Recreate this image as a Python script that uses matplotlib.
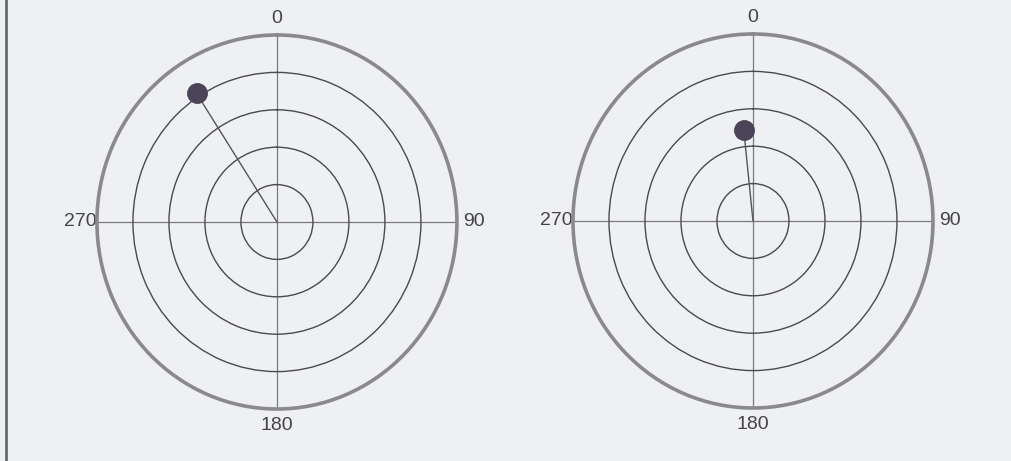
import numpy as np
import matplotlib
matplotlib.use("Agg")
import matplotlib.pyplot as plt
from matplotlib.lines import Line2D

# Data
angles_deg = [327, 354]          # direction of each pointer (degrees, clockwise from 0 at top)
radii = [4.1, 2.45]              # length of each pointer (ring units)
ring_values = [1, 2, 3, 4, 5]
theta_ticks = [0, 90, 180, 270]
theta_labels = ["0", "90", "180", "270"]
r_max = 5

bg = "#eef0f4"
fig = plt.figure(figsize=(10.12, 4.61), dpi=100, facecolor=bg)

positions = [
    [0.0958, 0.1128, 0.3557, 0.8113],
    [0.5662, 0.1150, 0.3557, 0.8113],
]

for pos, ang, r in zip(positions, angles_deg, radii):
    ax = fig.add_axes(pos, projection="polar")
    ax.set_aspect("auto")
    ax.set_facecolor(bg)
    ax.set_theta_zero_location("N")
    ax.set_theta_direction(-1)
    ax.set_ylim(0, r_max)
    ax.set_rticks(ring_values)
    ax.set_yticklabels([])
    ax.set_thetagrids(theta_ticks, theta_labels)
    ax.tick_params(axis="x", pad=1.5, labelsize=14, labelcolor="#444444")
    for lab in ax.get_xticklabels():
        lab.set_family(["Liberation Sans", "DejaVu Sans"])
    ax.yaxis.grid(True, color="#4a4a4a", linewidth=1.0)
    ax.xaxis.grid(True, color="#7a7a7a", linewidth=0.9)
    ax.spines["polar"].set_color("#8a8a8a")
    ax.spines["polar"].set_linewidth(2.6)
    t = np.deg2rad(ang)
    ax.plot([t, t], [0, r], color="#555555", linewidth=1.0, zorder=3)
    ax.plot([t], [r], marker="o", markersize=14, color="#4b4458",
            markeredgecolor="#4b4458", zorder=4, clip_on=False)

# left page border line
fig.add_artist(Line2D([0.0055, 0.0055], [0, 1], transform=fig.transFigure,
                      color="#6a6a6a", linewidth=2.0))

fig.savefig("out.png", dpi=100, facecolor=bg)
